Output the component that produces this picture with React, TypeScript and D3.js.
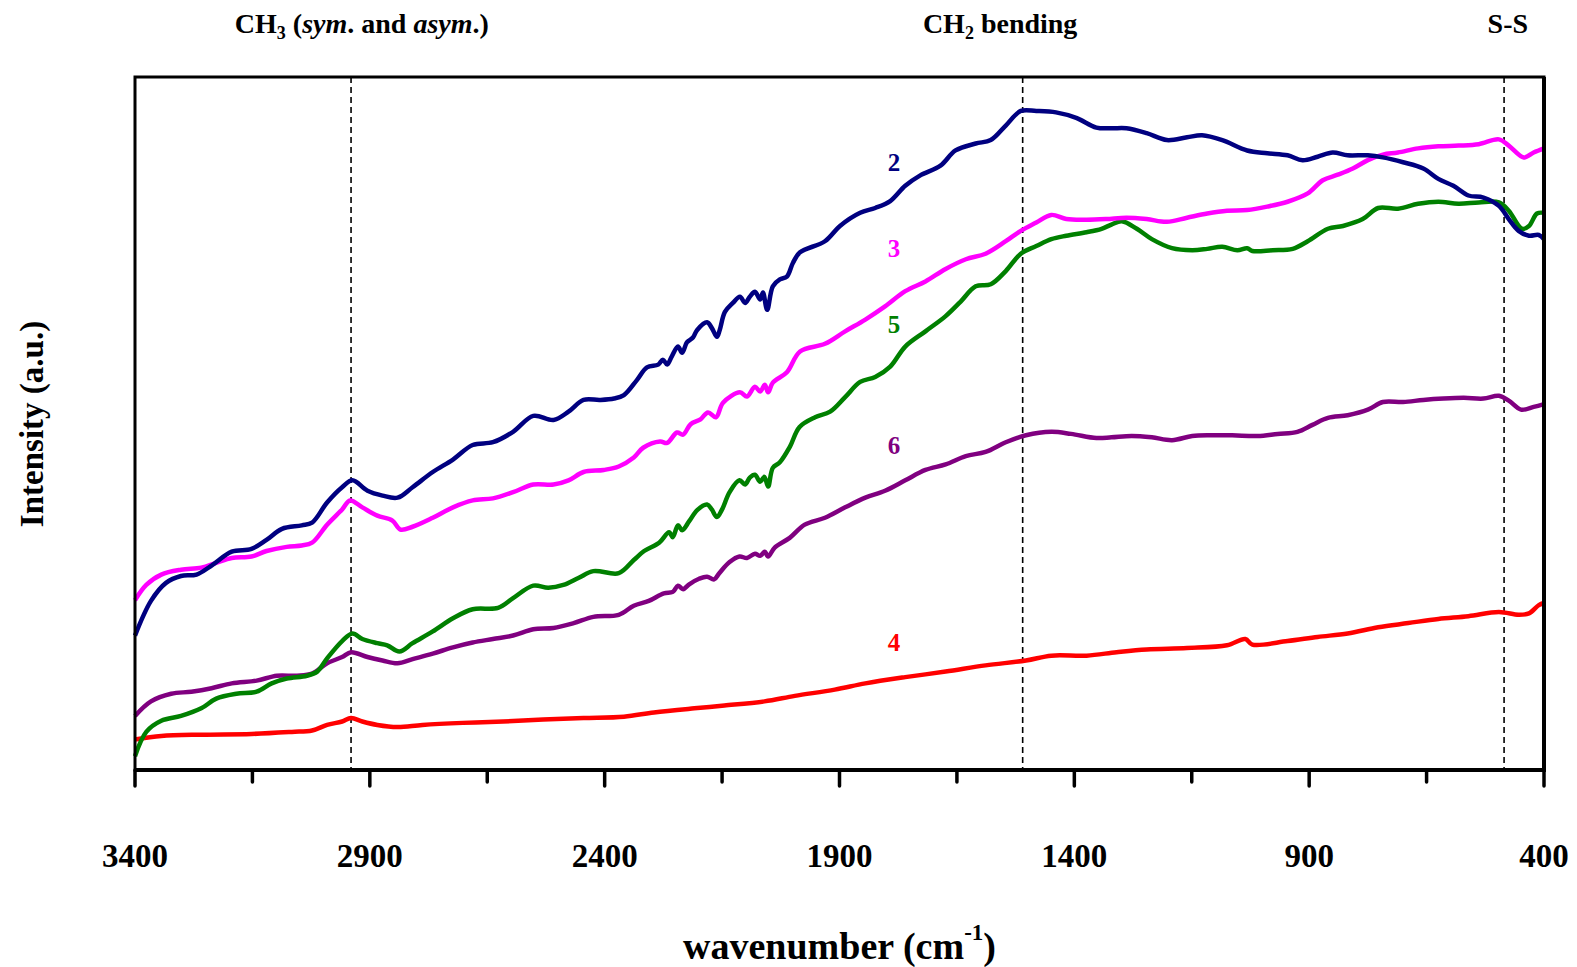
import React, { useEffect, useRef } from 'react'
import * as d3 from 'd3'

const width = 1577
const height = 967
const margin = { top: 77, right: 33, bottom: 197, left: 135 }

// wavenumber (cm-1), intensity (a.u., 0-100 over the plot height)
const series2 = [
  [3400, 19.4], [3366, 24.4], [3334, 27.0], [3302, 28.0], [3269, 28.2], [3237, 29.5], [3194, 31.5],
  [3152, 31.9], [3120, 33.2], [3087, 34.8], [3045, 35.3], [3023, 35.7], [2991, 38.6], [2959, 40.8],
  [2937, 41.8], [2905, 40.3], [2873, 39.6], [2841, 39.3], [2809, 40.8], [2766, 43.0], [2723, 44.8],
  [2681, 46.9], [2638, 47.3], [2595, 48.8], [2552, 51.1], [2509, 50.5], [2477, 51.7], [2445, 53.4],
  [2410, 53.4], [2380, 53.6], [2359, 54.1], [2331, 56.3], [2310, 58.1], [2286, 58.5], [2276, 59.2],
  [2267, 58.5], [2257, 59.7], [2244, 61.1], [2235, 60.2], [2225, 61.7], [2212, 62.4], [2203, 63.5],
  [2182, 64.6], [2172, 63.8], [2161, 62.5], [2155, 63.5], [2144, 66.1], [2127, 67.4], [2112, 68.3],
  [2101, 67.4], [2091, 68.3], [2080, 69.0], [2069, 67.9], [2063, 68.9], [2054, 66.4], [2042, 69.8],
  [2027, 70.8], [2012, 71.2], [1999, 73.2], [1984, 74.7], [1931, 76.3], [1899, 78.5], [1856, 80.4],
  [1824, 81.1], [1792, 82.1], [1760, 84.3], [1728, 85.8], [1685, 87.2], [1653, 89.4], [1610, 90.4],
  [1578, 90.9], [1546, 93.0], [1514, 95.1], [1481, 95.1], [1439, 94.9], [1396, 94.1], [1353, 92.7],
  [1321, 92.6], [1289, 92.6], [1246, 91.9], [1203, 90.9], [1160, 91.3], [1128, 91.6], [1085, 90.9],
  [1032, 89.4], [989, 89.0], [946, 88.7], [914, 88.0], [882, 88.5], [850, 89.1], [818, 88.7],
  [775, 88.7], [743, 88.4], [700, 87.7], [657, 86.8], [625, 85.3], [593, 84.3], [561, 82.9],
  [529, 82.6], [496, 81.4], [475, 79.5], [454, 77.8], [432, 77.1], [411, 77.2], [400, 76.6],
]

const series3 = [
  [3400, 24.5], [3376, 26.7], [3344, 28.2], [3302, 28.9], [3259, 29.2], [3227, 29.9], [3194, 30.6],
  [3152, 30.8], [3120, 31.6], [3077, 32.2], [3045, 32.4], [3023, 32.8], [2991, 35.4], [2959, 37.6],
  [2942, 38.9], [2916, 37.9], [2884, 36.7], [2852, 36.0], [2835, 34.7], [2809, 35.1], [2766, 36.4],
  [2723, 37.9], [2681, 38.9], [2638, 39.2], [2595, 40.1], [2552, 41.2], [2509, 41.2], [2477, 41.8],
  [2445, 43.0], [2402, 43.3], [2370, 43.8], [2338, 45.1], [2318, 46.5], [2282, 47.4], [2267, 47.2],
  [2246, 48.7], [2233, 48.4], [2217, 49.9], [2196, 50.6], [2180, 51.6], [2163, 50.9], [2148, 53.0],
  [2112, 54.5], [2097, 53.9], [2080, 55.3], [2069, 54.6], [2059, 55.6], [2052, 54.5], [2042, 55.9],
  [2012, 57.4], [1984, 60.4], [1931, 61.5], [1888, 63.3], [1845, 65.0], [1803, 66.9], [1760, 69.1],
  [1717, 70.5], [1674, 72.3], [1631, 73.7], [1589, 74.5], [1546, 76.3], [1514, 77.8], [1481, 79.0],
  [1449, 80.1], [1417, 79.5], [1374, 79.4], [1332, 79.5], [1289, 79.7], [1246, 79.5], [1203, 79.1],
  [1160, 79.7], [1117, 80.3], [1075, 80.7], [1032, 80.8], [989, 81.3], [946, 82.0], [903, 83.2],
  [871, 85.1], [839, 85.9], [807, 86.8], [775, 88.0], [743, 88.8], [711, 89.1], [668, 89.7],
  [625, 90.0], [582, 90.1], [539, 90.3], [496, 91.0], [475, 90.1], [443, 88.4], [422, 89.1], [400, 89.7],
]

const series5 = [
  [3400, 2.0], [3376, 5.5], [3344, 7.1], [3302, 7.8], [3259, 8.9], [3227, 10.3], [3184, 11.0],
  [3141, 11.3], [3109, 12.5], [3077, 13.2], [3034, 13.6], [3012, 14.2], [2991, 16.1], [2959, 18.6],
  [2937, 19.7], [2916, 18.9], [2884, 18.3], [2863, 18.0], [2837, 17.1], [2809, 18.3], [2766, 20.0],
  [2723, 21.9], [2681, 23.2], [2627, 23.4], [2595, 24.8], [2552, 26.6], [2520, 26.3], [2488, 26.7],
  [2456, 27.7], [2424, 28.7], [2370, 28.4], [2338, 30.3], [2316, 31.6], [2284, 32.8], [2263, 34.3],
  [2255, 33.6], [2244, 35.3], [2235, 34.6], [2220, 35.9], [2203, 37.5], [2182, 38.3], [2172, 37.6],
  [2161, 36.5], [2150, 37.6], [2134, 40.1], [2113, 41.8], [2101, 41.2], [2091, 42.2], [2080, 42.6],
  [2069, 41.6], [2060, 42.3], [2052, 40.9], [2042, 43.6], [2027, 44.4], [2006, 46.6], [1985, 49.5],
  [1952, 50.9], [1920, 51.7], [1888, 53.8], [1856, 56.0], [1824, 56.7], [1792, 58.2], [1760, 61.1],
  [1717, 63.3], [1674, 65.5], [1642, 67.6], [1610, 69.8], [1578, 70.1], [1546, 72.0], [1514, 74.5],
  [1481, 75.6], [1449, 76.6], [1417, 77.1], [1374, 77.6], [1342, 78.1], [1321, 78.7], [1299, 79.2],
  [1267, 78.1], [1235, 76.6], [1192, 75.3], [1149, 75.0], [1117, 75.2], [1085, 75.5], [1053, 75.0],
  [1032, 75.3], [1021, 74.9], [978, 75.0], [935, 75.2], [903, 76.3], [860, 78.1], [828, 78.5],
  [786, 79.5], [753, 81.1], [711, 81.0], [668, 81.7], [625, 82.0], [582, 81.7], [539, 81.9],
  [496, 81.9], [475, 80.7], [447, 78.1], [432, 78.5], [415, 80.3], [400, 80.4],
]

const series6 = [
  [3400, 7.8], [3366, 9.9], [3323, 11.0], [3280, 11.3], [3237, 11.8], [3194, 12.5], [3141, 12.9],
  [3098, 13.6], [3055, 13.6], [3023, 13.9], [2991, 15.4], [2959, 16.3], [2940, 17.0], [2905, 16.3],
  [2873, 15.8], [2841, 15.4], [2809, 16.0], [2766, 16.8], [2723, 17.7], [2681, 18.4], [2638, 18.9],
  [2595, 19.4], [2552, 20.3], [2509, 20.5], [2466, 21.2], [2424, 22.1], [2370, 22.4], [2338, 23.7],
  [2306, 24.4], [2274, 25.5], [2255, 25.7], [2244, 26.6], [2233, 26.1], [2220, 26.8], [2199, 27.6],
  [2182, 27.9], [2167, 27.5], [2156, 28.4], [2134, 30.0], [2113, 30.8], [2097, 30.6], [2080, 31.2],
  [2069, 30.9], [2059, 31.5], [2052, 30.8], [2038, 32.1], [2006, 33.5], [1974, 35.4], [1931, 36.4],
  [1888, 37.9], [1845, 39.3], [1803, 40.3], [1760, 41.8], [1717, 43.3], [1674, 44.1], [1631, 45.3],
  [1589, 45.9], [1546, 47.3], [1503, 48.3], [1449, 48.8], [1407, 48.5], [1353, 47.9], [1321, 48.0],
  [1278, 48.2], [1235, 48.0], [1192, 47.6], [1149, 48.2], [1107, 48.3], [1064, 48.3], [1010, 48.2],
  [967, 48.5], [925, 48.8], [893, 49.8], [860, 50.8], [818, 51.2], [775, 52.0], [743, 53.1],
  [700, 53.1], [657, 53.4], [614, 53.6], [571, 53.7], [529, 53.6], [496, 54.0], [475, 53.3],
  [449, 52.0], [422, 52.4], [400, 52.8],
]

const series4 = [
  [3400, 4.4], [3344, 4.9], [3259, 5.1], [3152, 5.2], [3066, 5.5], [3023, 5.7], [2991, 6.5],
  [2959, 7.0], [2940, 7.5], [2916, 7.0], [2884, 6.5], [2841, 6.2], [2788, 6.5], [2702, 6.8],
  [2616, 7.0], [2531, 7.3], [2445, 7.5], [2359, 7.7], [2295, 8.3], [2209, 8.9], [2145, 9.3],
  [2060, 9.9], [1995, 10.7], [1910, 11.6], [1845, 12.5], [1760, 13.4], [1674, 14.2], [1589, 15.1],
  [1503, 15.8], [1449, 16.5], [1374, 16.5], [1310, 17.0], [1246, 17.4], [1160, 17.6], [1075, 18.0],
  [1036, 18.9], [1021, 18.1], [946, 18.6], [882, 19.2], [818, 19.7], [753, 20.6], [689, 21.2],
  [625, 21.8], [561, 22.2], [496, 22.8], [454, 22.4], [432, 22.6], [411, 23.8], [400, 24.1],
]

const seriesNames = ['4', '6', '5', '3', '2']
const seriesColors = ['#ff0000', '#800080', '#008000', '#ff00ff', '#000080']
const seriesData = [series4, series6, series5, series3, series2]
// label anchor: wavenumber, intensity (baseline)
const labelPos = [[1784, 17.2], [1784, 45.6], [1784, 63.1], [1784, 74.0], [1784, 86.4]]

const majorTicks = [3400, 2900, 2400, 1900, 1400, 900, 400]
const minorTicks = [3150, 2650, 2150, 1650, 1150, 650]

const bandLines = [2940, 1510, 485]
const bandLabelPos = [2917, 1558, 477]

export default function App() {
  const ref = useRef<SVGSVGElement>(null)

  useEffect(() => {
    document.body.style.margin = '0'
    const svg = d3.select(ref.current)
    svg.selectAll('*').remove()

    const x = d3.scaleLinear().domain([3400, 400]).range([margin.left, width - margin.right])
    const y = d3.scaleLinear().domain([0, 100]).range([height - margin.bottom, margin.top])
    const font = '"Liberation Serif", "Times New Roman", serif'

    const top = margin.top
    const bottom = height - margin.bottom

    // dashed band markers
    svg.selectAll('line.band').data(bandLines).enter().append('line')
      .attr('x1', d => x(d)).attr('x2', d => x(d))
      .attr('y1', top).attr('y2', bottom)
      .attr('stroke', '#000').attr('stroke-width', 1.6)
      .attr('stroke-dasharray', '6,4')

    const line = d3.line<number[]>()
      .x(d => x(d[0]))
      .y(d => y(d[1]))
      .curve(d3.curveCatmullRom.alpha(0.5))

    svg.selectAll('path.spec').data(seriesData).enter().append('path')
      .attr('d', d => line(d))
      .attr('fill', 'none')
      .attr('stroke', (d, i) => seriesColors[i])
      .attr('stroke-width', 4.5)
      .attr('stroke-linejoin', 'round')

    svg.selectAll('text.sname').data(seriesNames).enter().append('text')
      .attr('x', (d, i) => x(labelPos[i][0]))
      .attr('y', (d, i) => y(labelPos[i][1]))
      .attr('text-anchor', 'middle')
      .attr('font-family', font).attr('font-weight', 'bold').attr('font-size', 25)
      .attr('fill', (d, i) => seriesColors[i])
      .text(d => d)

    // frame
    svg.append('rect')
      .attr('x', margin.left).attr('y', top)
      .attr('width', width - margin.right - margin.left).attr('height', bottom - top)
      .attr('fill', 'none').attr('stroke', '#000').attr('stroke-width', 3)
    svg.append('line')
      .attr('x1', margin.left - 1).attr('x2', width - margin.right + 2)
      .attr('y1', bottom).attr('y2', bottom)
      .attr('stroke', '#000').attr('stroke-width', 4)
    svg.append('line')
      .attr('x1', width - margin.right).attr('x2', width - margin.right)
      .attr('y1', top).attr('y2', bottom)
      .attr('stroke', '#000').attr('stroke-width', 4)

    // ticks
    svg.selectAll('line.major').data(majorTicks).enter().append('line')
      .attr('x1', d => x(d)).attr('x2', d => x(d))
      .attr('y1', bottom).attr('y2', bottom + 16)
      .attr('stroke', '#000').attr('stroke-width', 3.5).attr('stroke-linecap', 'round')
    svg.selectAll('line.minor').data(minorTicks).enter().append('line')
      .attr('x1', d => x(d)).attr('x2', d => x(d))
      .attr('y1', bottom).attr('y2', bottom + 12)
      .attr('stroke', '#000').attr('stroke-width', 3.5).attr('stroke-linecap', 'round')
    svg.selectAll('text.tick').data(majorTicks).enter().append('text')
      .attr('x', d => x(d)).attr('y', bottom + 97)
      .attr('text-anchor', 'middle')
      .attr('font-family', font).attr('font-weight', 'bold').attr('font-size', 33)
      .text(d => d)

    // band labels
    const bl = svg.selectAll('text.band').data(bandLabelPos).enter().append('text')
      .attr('x', d => x(d)).attr('y', 33)
      .attr('text-anchor', 'middle')
      .attr('font-family', font).attr('font-weight', 'bold').attr('font-size', 28)
    bl.each(function (d, i) {
      const t = d3.select(this)
      if (i === 0) {
        t.append('tspan').text('CH')
        t.append('tspan').attr('font-size', 18).attr('dy', 6).text('3')
        t.append('tspan').attr('dy', -6).text(' (')
        t.append('tspan').attr('font-style', 'italic').text('sym')
        t.append('tspan').text('. and ')
        t.append('tspan').attr('font-style', 'italic').text('asym')
        t.append('tspan').text('.)')
      } else if (i === 1) {
        t.append('tspan').text('CH')
        t.append('tspan').attr('font-size', 18).attr('dy', 6).text('2')
        t.append('tspan').attr('dy', -6).text(' bending')
      } else {
        t.text('S-S')
      }
    })

    // axis titles
    const xt = svg.append('text')
      .attr('x', (margin.left + width - margin.right) / 2).attr('y', 959)
      .attr('text-anchor', 'middle')
      .attr('font-family', font).attr('font-weight', 'bold').attr('font-size', 38)
    xt.append('tspan').text('wavenumber (cm')
    xt.append('tspan').attr('font-size', 23).attr('dy', -19).text('-1')
    xt.append('tspan').attr('dy', 19).text(')')

    svg.append('text')
      .attr('transform', 'translate(43,' + 424 + ') rotate(-90)')
      .attr('text-anchor', 'middle')
      .attr('font-family', font).attr('font-weight', 'bold').attr('font-size', 33)
      .text('Intensity (a.u.)')
  }, [])

  return <svg ref={ref} width={width} height={height} style={{ display: 'block', background: '#fff' }} />
}
